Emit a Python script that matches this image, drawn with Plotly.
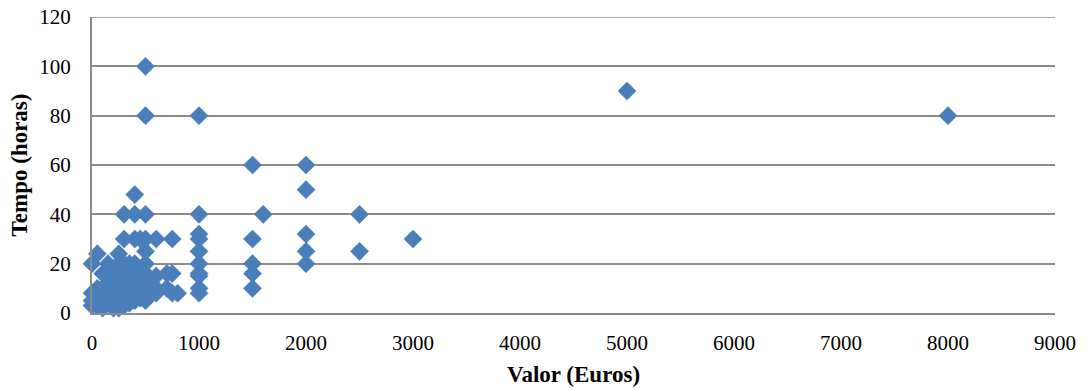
import plotly.graph_objects as go

valor = [
    0, 0, 0, 0,
    50, 50, 50, 50, 50,
    100, 100, 100, 100, 100, 100,
    150, 150, 150, 150, 150,
    200, 200, 200, 200, 200, 200, 200,
    250, 250, 250, 250, 250, 250, 250,
    300, 300, 300, 300, 300, 300, 300, 300,
    350, 350, 350, 350, 350,
    400, 400, 400, 400, 400, 400, 400, 400, 400,
    450, 450, 450, 450,
    500, 500, 500, 500, 500, 500, 500, 500, 500, 500, 500, 500,
    550,
    600, 600, 600, 600,
    700, 700,
    750, 750, 750,
    800,
    1000, 1000, 1000, 1000, 1000, 1000, 1000, 1000, 1000, 1000,
    1500, 1500, 1500, 1500, 1500,
    1600,
    2000, 2000, 2000, 2000, 2000,
    2500, 2500,
    3000,
    5000,
    8000,
]
tempo = [
    20, 8, 5, 3,
    24, 10, 6, 4, 3,
    16, 10, 8, 5, 3, 2,
    20, 12, 8, 6, 4,
    16, 12, 10, 8, 5, 3, 2,
    24, 20, 15, 10, 6, 4, 2,
    40, 30, 20, 16, 12, 8, 5, 3,
    20, 15, 10, 6, 4,
    48, 40, 30, 20, 16, 12, 10, 8, 5,
    30, 16, 10, 6,
    100, 80, 40, 30, 25, 20, 16, 15, 12, 10, 8, 5,
    10,
    30, 15, 10, 8,
    16, 10,
    30, 16, 8,
    8,
    80, 40, 32, 30, 25, 20, 16, 15, 10, 8,
    60, 30, 20, 16, 10,
    40,
    60, 50, 32, 25, 20,
    40, 25,
    30,
    90,
    80,
]

x_ticks = [0, 1000, 2000, 3000, 4000, 5000, 6000, 7000, 8000, 9000]
y_ticks = [0, 20, 40, 60, 80, 100, 120]

grid_color = "#8C8C8C"

fig = go.Figure(go.Scatter(
    x=valor, y=tempo, mode="markers",
    marker=dict(symbol="diamond", size=14, color="#4A7EBB",
                line=dict(width=0.5, color="#4A7EBB")),
    showlegend=False, cliponaxis=False,
))

# top gridline (plotly omits the gridline that sits on the range edge)
fig.add_shape(type="line", xref="paper", x0=0, x1=1, yref="y",
              y0=y_ticks[-1], y1=y_ticks[-1],
              line=dict(color=grid_color, width=1.5), layer="below")

font_family = "Liberation Serif, DejaVu Serif, serif"
fig.update_layout(
    width=1087, height=389,
    margin=dict(l=92, r=32, t=17, b=76),
    paper_bgcolor="white", plot_bgcolor="white",
    font=dict(family=font_family, size=21, color="#000000"),
)
fig.update_xaxes(
    range=[0, 9000], tickvals=x_ticks, showgrid=False, zeroline=False,
    showline=True, linecolor=grid_color, linewidth=2,
    ticks="", ticklabelstandoff=10, automargin=False,
    title=dict(text="<b>Valor (Euros)</b>", font=dict(size=23), standoff=12),
)
fig.update_yaxes(
    range=[0, 120], tickvals=y_ticks, showgrid=True, gridcolor=grid_color, gridwidth=1.5,
    zeroline=False, showline=True, linecolor=grid_color, linewidth=2,
    ticks="", ticklabelstandoff=15, automargin=False, ticklabeloverflow="allow",
    title=dict(text="<b>Tempo (horas)</b>", font=dict(size=23), standoff=5),
)

# the page body has a default 8px margin; remove it so the figure sits at (0, 0)
fig.write_html("out.html", config={"displayModeBar": False},
               post_script="document.body.style.margin='0';")
